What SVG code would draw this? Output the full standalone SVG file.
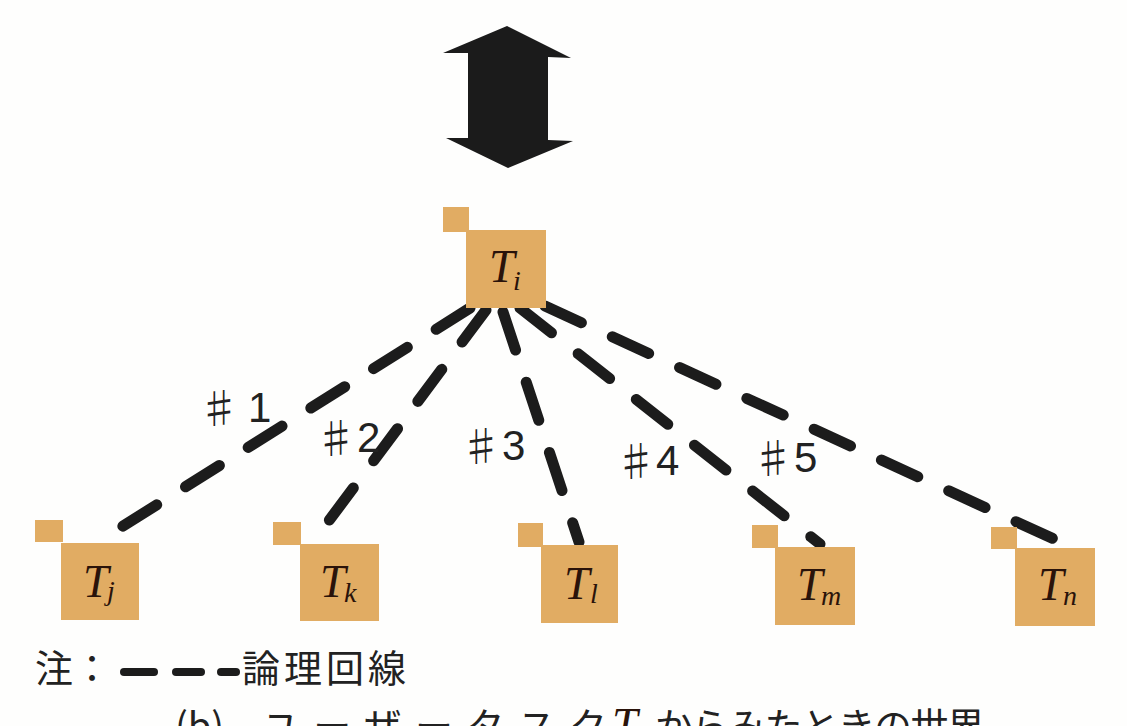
<svg xmlns="http://www.w3.org/2000/svg" width="1127" height="726" viewBox="0 0 1127 726">
<style>
.box{fill:#E1AC63}
.t{font-family:"Liberation Serif",serif;font-style:italic;fill:#2a130a;font-size:46px}
.s{font-family:"Liberation Serif",serif;font-style:italic;fill:#2a130a;font-size:28px}
.ln{stroke:#1c1c1c;stroke-width:11;stroke-linecap:round;fill:none;stroke-dasharray:40 34}
.lbl{font-family:"Liberation Sans","Noto Sans CJK JP",sans-serif;font-size:42px;fill:#222}
.sh{font-family:"Noto Sans CJK JP",sans-serif;font-size:42px;font-weight:300}
.jp{font-family:"Noto Sans CJK JP",sans-serif;font-size:38px;fill:#222}
</style>
<rect width="1127" height="726" fill="#fefefd"/>
<g id="double-arrow">
<polygon points="507,26 571,58 548,57 548,140 573,141 508,168 446,138 468,138 468,53 443,53" fill="#1b1b1b"/>
</g>
<g id="connectors">
<line class="ln" x1="470" y1="308" x2="104" y2="538"/>
<line class="ln" x1="486" y1="310" x2="316" y2="538"/>
<line class="ln" x1="503" y1="312" x2="579" y2="542"/>
<line class="ln" x1="520" y1="308" x2="820" y2="544"/>
<line class="ln" x1="545" y1="306" x2="1056" y2="540"/>
</g>
<g id="labels">
<text class="lbl" x="198" y="422"><tspan class="sh" y="424">♯</tspan><tspan x="248" y="422">1</tspan></text>
<text class="lbl" x="315" y="452"><tspan class="sh" y="454">♯</tspan><tspan x="357" y="452">2</tspan></text>
<text class="lbl" x="460" y="460"><tspan class="sh" y="462">♯</tspan><tspan x="502" y="460">3</tspan></text>
<text class="lbl" x="615" y="475"><tspan class="sh" y="477">♯</tspan><tspan x="656" y="475">4</tspan></text>
<text class="lbl" x="752" y="472"><tspan class="sh" y="474">♯</tspan><tspan x="794" y="472">5</tspan></text>
</g>
<g id="node-Ti">
<rect class="box" x="443" y="207" width="26" height="25"/>
<rect class="box" x="466" y="230" width="80" height="78"/>
<text class="t" x="489" y="282">T<tspan class="s" x="513" y="290">i</tspan></text>
</g>
<g id="node-Tj">
<rect class="box" x="35" y="520" width="28" height="22"/>
<rect class="box" x="61" y="543" width="78" height="77"/>
<text class="t" x="83" y="597">T<tspan class="s" x="107" y="600">j</tspan></text>
</g>
<g id="node-Tk">
<rect class="box" x="273" y="522" width="28" height="23"/>
<rect class="box" x="300" y="544" width="79" height="77"/>
<text class="t" x="320" y="597">T<tspan class="s" x="344" y="602">k</tspan></text>
</g>
<g id="node-Tl">
<rect class="box" x="518" y="523" width="25" height="24"/>
<rect class="box" x="541" y="545" width="77" height="78"/>
<text class="t" x="564" y="599">T<tspan class="s" x="590" y="603">l</tspan></text>
</g>
<g id="node-Tm">
<rect class="box" x="752" y="525" width="26" height="23"/>
<rect class="box" x="775" y="547" width="80" height="78"/>
<text class="t" x="797" y="600">T<tspan class="s" x="821" y="605">m</tspan></text>
</g>
<g id="node-Tn">
<rect class="box" x="991" y="527" width="26" height="22"/>
<rect class="box" x="1015" y="548" width="80" height="78"/>
<text class="t" x="1038" y="600">T<tspan class="s" x="1063" y="605">n</tspan></text>
</g>
<g id="legend">
<text class="jp" x="35" y="682">注：</text>
<line x1="124" y1="672" x2="154" y2="672" stroke="#1c1c1c" stroke-width="8" stroke-linecap="round"/>
<line x1="176" y1="672" x2="201" y2="672" stroke="#1c1c1c" stroke-width="8" stroke-linecap="round"/>
<line x1="221" y1="672" x2="236" y2="672" stroke="#1c1c1c" stroke-width="8" stroke-linecap="round"/>
<text class="jp" x="242" y="682" letter-spacing="4">論理回線</text>
</g>
<g id="caption">
<text class="jp" x="175" y="740" font-size="40">(b)</text>
<text class="jp" x="262" y="740" font-size="40" textLength="345" lengthAdjust="spacing">ユーザータスク</text>
<text class="t" x="612" y="740" font-size="40">T</text>
<text class="jp" x="655" y="740" font-size="40" textLength="330" lengthAdjust="spacing">からみたときの世界</text>
</g>
</svg>
